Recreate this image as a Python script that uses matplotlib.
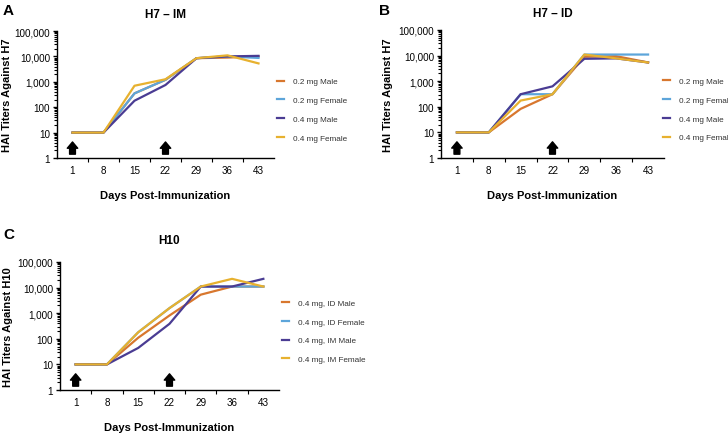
import numpy as np
import matplotlib.pyplot as plt
from matplotlib.ticker import FixedLocator, LogLocator, NullFormatter, FuncFormatter

plt.rcParams['font.family'] = ['Liberation Sans', 'DejaVu Sans']

days = ['1', '8', '15', '22', '29', '36', '43']
arrow_days = [0, 3]          # category index of the two immunizations

# H7 - IM
a_labels = ['0.2 mg Male', '0.2 mg Female', '0.4 mg Male', '0.4 mg Female']
a_m02 = [10, 10, 350, 1200, 8500, 9000, 10000]
a_f02 = [10, 10, 350, 1200, 8500, 10000, 8700]
a_m04 = [10, 10, 180, 750, 8500, 10000, 10500]
a_f04 = [10, 10, 700, 1260, 8500, 11000, 5300]

# H7 - ID
b_labels = ['0.2 mg Male', '0.2 mg Female', '0.4 mg Male', '0.4 mg Female']
b_m02 = [10, 10, 83, 310, 9000, 9500, 5400]
b_f02 = [10, 10, 310, 310, 11000, 11000, 11000]
b_m04 = [10, 10, 310, 630, 7500, 7800, 5400]
b_f04 = [10, 10, 175, 310, 11000, 7800, 5400]

# H10
c_labels = ['0.4 mg, ID Male', '0.4 mg, ID Female', '0.4 mg, IM Male', '0.4 mg, IM Female']
c_idm = [10, 10, 110, 815, 5300, 11000, 11000]
c_idf = [10, 10, 180, 1580, 11000, 11000, 11000]
c_imm = [10, 10, 44, 385, 11000, 11000, 22000]
c_imf = [10, 10, 180, 1580, 11000, 22000, 11000]

colors = ['#D8772E', '#5DA5DA', '#4A3C93', '#E7B12F']

W, H = 728, 435


def panel(ax, series, labels, title, ylabel, tpad, ylab_x, leg_x, leg_y):
    x = np.arange(len(days))
    for s, lab, c in zip(series, labels, colors):
        ax.plot(x, s, color=c, lw=1.6, label=lab)
    ax.set_yscale('log')
    ax.set_ylim(1, 100000)
    ax.set_xlim(-0.5, len(days) - 0.5)
    ax.set_xticks(x)
    ax.set_xticklabels(days)
    ax.xaxis.set_minor_locator(FixedLocator(x[:-1] + 0.5))
    ax.tick_params(axis='x', which='major', length=0, labelsize=7.1, pad=5)
    ax.tick_params(axis='x', which='minor', length=3, width=0.8)
    ax.yaxis.set_major_locator(LogLocator(base=10, numticks=10))
    ax.yaxis.set_minor_locator(LogLocator(base=10, subs=np.arange(2, 10), numticks=10))
    ax.yaxis.set_minor_formatter(NullFormatter())
    ax.yaxis.set_major_formatter(FuncFormatter(lambda v, p: f'{int(round(v)):,}'))
    ax.tick_params(axis='y', which='major', length=3, width=1, labelsize=7.1, pad=2)
    ax.tick_params(axis='y', which='minor', length=2, width=0.8)
    for sp in ['top', 'right']:
        ax.spines[sp].set_visible(False)
    for sp in ['left', 'bottom']:
        ax.spines[sp].set_linewidth(1)
    for d in arrow_days:
        ax.annotate('', xy=(d, 5.5), xytext=(d, 1.1),
                    arrowprops=dict(arrowstyle='simple,head_width=0.75,head_length=0.45,tail_width=0.42',
                                    color='black'))
    ax.set_title(title, fontsize=8.5, fontweight='bold', pad=tpad)
    ax.set_xlabel('Days Post-Immunization', fontsize=8, fontweight='bold', labelpad=11)
    bb = ax.get_position()
    ax.set_ylabel(ylabel, fontsize=8, fontweight='bold', va='center')
    ax.yaxis.set_label_coords((ylab_x / W - bb.x0) / bb.width, 0.5)
    # legend placed by pixel position of its first handle
    fx = (leg_x / W - bb.x0) / bb.width
    leg = ax.legend(loc='center left', bbox_to_anchor=(fx, leg_y), frameon=False,
                    borderpad=0, borderaxespad=0,
                    fontsize=5.9, handlelength=0.8, handletextpad=1.2, labelspacing=1.35)
    for t in leg.get_texts():
        t.set_color('#333333')


fig = plt.figure(figsize=(7.28, 4.35), dpi=100)
axA = fig.add_axes([57 / W, 1 - 159 / H, 217 / W, 127 / H])
axB = fig.add_axes([441 / W, 1 - 159 / H, 223 / W, 128 / H])
axC = fig.add_axes([60 / W, 1 - 391 / H, 219 / W, 128 / H])

panel(axA, [a_m02, a_f02, a_m04, a_f04], a_labels, 'H7 – IM', 'HAI Titers Against H7', 10, 7, 277, 0.38)
panel(axB, [b_m02, b_f02, b_m04, b_f04], b_labels, 'H7 – ID', 'HAI Titers Against H7', 10, 388, 663, 0.38)
panel(axC, [c_idm, c_idf, c_imm, c_imf], c_labels, 'H10', 'HAI Titers Against H10', 14, 8, 282, 0.46)

for letter, px, py in [('A', 3, 4), ('B', 379, 4), ('C', 3, 228)]:
    fig.text(px / W, 1 - py / H, letter, fontsize=11, fontweight='bold', va='top', ha='left')

fig.savefig('out.png', dpi=100)
